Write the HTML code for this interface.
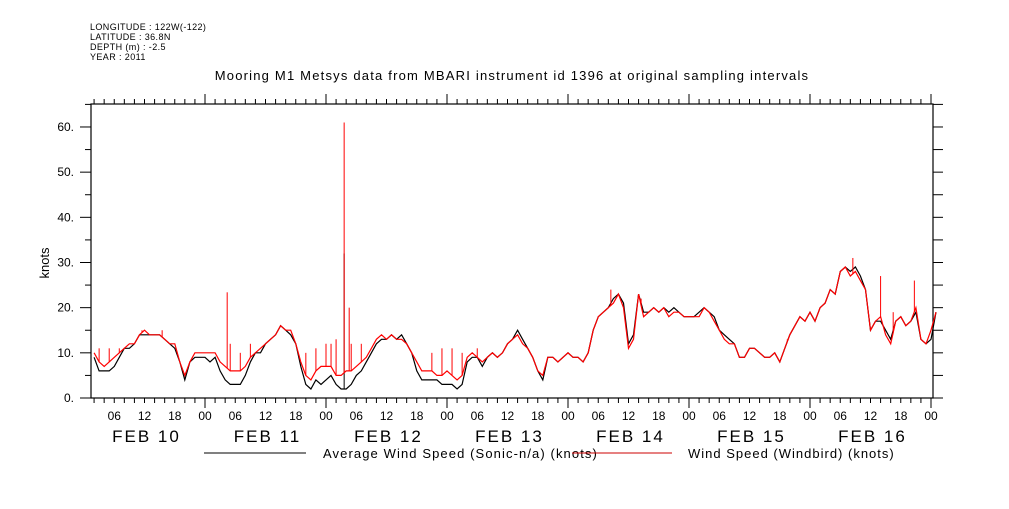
<!DOCTYPE html>
<html><head><meta charset="utf-8"><style>
body{margin:0;background:#fff;}
svg text{font-family:"Liberation Sans",sans-serif;fill:#000;}
</style></head><body>
<svg id="chart" width="1009" height="504" xmlns="http://www.w3.org/2000/svg">
<g font-size="9" letter-spacing="0.4">
<text x="90" y="30">LONGITUDE : 122W(-122)</text>
<text x="90" y="40">LATITUDE : 36.8N</text>
<text x="90" y="50">DEPTH (m) : -2.5</text>
<text x="90" y="60">YEAR : 2011</text>
</g>
<text x="512" y="80" font-size="13" letter-spacing="1.2" text-anchor="middle">Mooring M1 Metsys data from MBARI instrument id 1396 at original sampling intervals</text>
<text transform="translate(49,263) rotate(-90)" font-size="13" text-anchor="middle">knots</text>
<g id="axes"></g>
<g id="series"></g>
<g>
<line x1="204" y1="453" x2="306" y2="453" stroke="#000"/>
<text x="323" y="458" font-size="13" letter-spacing="1.1">Average Wind Speed (Sonic-n/a) (knots)</text>
<line x1="572" y1="453" x2="672" y2="453" stroke="#c00"/>
<text x="688" y="458" font-size="13" letter-spacing="1">Wind Speed (Windbird) (knots)</text>
</g>
</svg>
<script>
// hours since FEB 10 00:00, starting at hour 2
const startHour = 2;
const sonic = [9,6,6,6,7,9,11,11,12,14,14,14,14,14,13,12,11,8,4,8,9,9,9,
8,9,6,4,3,3,3,5,8,10,10,12,13,14,16,15,14,12,7,3,2,4,3,4,
5,3,2,2,3,5,6,8,10,12,13,13,14,13,14,12,10,6,4,4,4,4,3,3,
3,2,3,8,9,9,7,9,10,9,10,12,13,15,13,11,9,6,4,9,9,8,9,10,
9,9,8,10,15,18,19,20,22,23,21,12,14,23,19,19,20,19,20,19,20,19,18,18,
18,19,20,19,18,15,14,13,12,9,9,11,11,10,9,9,10,8,11,14,16,18,17,19,
17,20,21,24,23,28,29,28,29,27,24,15,17,17,15,13,17,18,16,17,19,13,12,13,19];
const windbird = [10,8,7,8,9,10,11,12,12,14,15,14,14,14,13,12,12,8,5,8,10,10,10,
10,10,8,7,6,6,6,7,9,10,11,12,13,14,16,15,15,12,8,5,4,6,7,7,
7,5,5,6,6,7,8,9,11,13,14,13,14,13,13,12,10,8,6,6,6,5,5,6,
5,4,5,9,10,9,8,9,10,9,10,12,13,14,12,11,9,6,5,9,9,8,9,10,
9,9,8,10,15,18,19,20,21,23,20,11,13,23,18,19,20,19,20,18,19,19,18,18,
18,18,20,19,17,15,13,12,12,9,9,11,11,10,9,9,10,8,11,14,16,18,17,19,
17,20,21,24,23,28,29,27,28,26,24,15,17,18,14,12,17,18,16,17,20,13,12,15,19];
const spikeHours = [3,5,7,11.5,15.5,28.4,29,31,33,44,46,48,49,50,51.6,52.6,53,55,69,71,73,75,78,104.5,110.5,139.5,152.5,158,160.5,164.7];
const spikeValues = [11,11,11,15,15,23.4,12,10,12,10,11,12,12,13,61,20,12,12,10,11,11,10,11,24,22,13,31,27,19,26];
const sonicSpikeHours = [51.6];
const sonicSpikeValues = [32];
const yTicks = [0,10,20,30,40,50,60];
const yTickLabels = ["0.","10.","20.","30.","40.","50.","60."];
const hourLabels = ["00","06","12","18"];
const dayLabels = ["FEB 10","FEB 11","FEB 12","FEB 13","FEB 14","FEB 15","FEB 16"];

const X0=91,X1=933,Y0=398,Y1=104;
const xs = h => 205 + (h-24)*121/24;
const ys = v => 398 - v*4.517;
const NS="http://www.w3.org/2000/svg";
function mk(tag,attrs,parent){const e=document.createElementNS(NS,tag);for(const k in attrs)e.setAttribute(k,attrs[k]);parent.appendChild(e);return e;}
const axes=document.getElementById('axes'), series=document.getElementById('series');

const frame=mk('rect',{x:X0,y:Y1,width:X1-X0,height:Y0-Y1,fill:'none',stroke:'#000','stroke-width':1.2},axes);



for(let v=0;v<=65;v+=5){
  const y=ys(v);
  const major=v%10===0;
  const t=mk('line',{x1:major?80:85,y1:y,x2:X0,y2:y,stroke:'#000'},axes);
  
  
  const r=mk('line',{x1:X1,y1:y,x2:943,y2:y,stroke:'#000'},axes);
  
  
}
yTicks.forEach((v,i)=>{
  const t=mk('text',{x:74,y:ys(v)+4,'font-size':12,'text-anchor':'end'},axes);
  t.textContent=yTickLabels[i];
  
  
});
for(let h=2;h<=168;h+=2){
  const x=xs(h); if(x<X0||x>X1) continue;
  const major=h%24===0;
  const b=mk('line',{x1:x,y1:Y0,x2:x,y2:Y0+(major?10:5),stroke:'#000'},axes);
  
  
  const tp=mk('line',{x1:x,y1:Y1,x2:x,y2:Y1-(major?10:5),stroke:'#000'},axes);
  
  
}
for(let h=6;h<=168;h+=6){
  const t=mk('text',{x:xs(h),y:420,'font-size':12,'text-anchor':'middle'},axes);
  t.textContent=hourLabels[(h/6)%4];
  
  
}
dayLabels.forEach((d,i)=>{
  const t=mk('text',{x:xs(i*24+12)+2,y:442,'font-size':17,'letter-spacing':2,'text-anchor':'middle'},axes);
  t.textContent=d;
  
  
});

function line(arr,color,name){
  const pts=arr.map((v,i)=>xs(startHour+i).toFixed(1)+','+ys(v).toFixed(1)).join(' ');
  const p=mk('polyline',{points:pts,fill:'none',stroke:color,'stroke-width':1.2},series);
  
  
}
function baseAt(arr,h){const i=h-startHour;const a=Math.max(0,Math.min(arr.length-1,Math.floor(i)));const b=Math.min(arr.length-1,a+1);const f=i-a;return arr[a]*(1-f)+arr[b]*f;}
line(sonic,'#000','sonic-series-line');
sonicSpikeHours.forEach((h,i)=>{
  const s=mk('line',{x1:xs(h),y1:ys(baseAt(sonic,h)),x2:xs(h),y2:ys(sonicSpikeValues[i]),stroke:'#000'},series);
  
  
});
line(windbird,'#f00','windbird-series-line');
spikeHours.forEach((h,i)=>{
  const s=mk('line',{x1:xs(h),y1:ys(baseAt(windbird,h)),x2:xs(h),y2:ys(spikeValues[i]),stroke:'#f00'},series);
  
  
});
</script>
</body></html>
